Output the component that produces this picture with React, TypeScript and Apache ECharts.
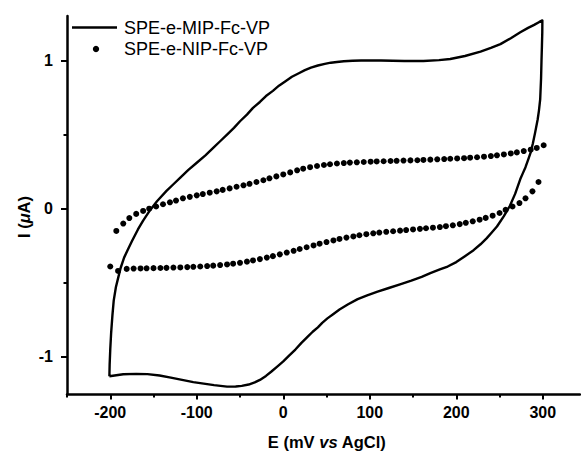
import React, { useEffect, useRef } from "react";
import * as echarts from "echarts";

// MIP: cyclic voltammogram, anodic (forward) then cathodic (reverse) sweep, [E mV, I µA]
const mipForward: [number, number][] = [
  [-201, -1.13], [-200.7, -1.05], [-200, -0.95], [-199, -0.84], [-197.5, -0.72], [-196, -0.62],
  [-193.5, -0.53], [-191, -0.47], [-188, -0.4], [-184, -0.33], [-180, -0.28], [-175, -0.22],
  [-168, -0.14], [-162, -0.08], [-154, -0.01], [-146, 0.05], [-135, 0.12], [-127, 0.165],
  [-119, 0.21], [-110, 0.26], [-100, 0.31], [-90, 0.36], [-81, 0.41], [-73, 0.455], [-65, 0.5],
  [-57, 0.545], [-50, 0.59], [-42, 0.635], [-35, 0.68], [-27, 0.72], [-20, 0.76], [-12, 0.795],
  [-5, 0.83], [3, 0.862], [10, 0.89], [18, 0.914], [25, 0.935], [32, 0.952], [40, 0.966],
  [48, 0.977], [55, 0.985], [62, 0.99], [70, 0.995], [80, 0.998], [90, 1.0], [113, 1.0],
  [140, 0.996], [162, 0.996], [180, 1.002], [193, 1.01], [210, 1.03], [228, 1.06], [240, 1.085],
  [251, 1.11], [263, 1.15], [274, 1.19], [283, 1.22], [290, 1.24], [296, 1.26], [299.5, 1.27],
];
const mipReverse: [number, number][] = [
  [299.4, 1.19], [299, 1.1], [298.5, 1.0], [298, 0.88], [297, 0.74], [295.5, 0.66], [294, 0.6],
  [291, 0.51], [288.5, 0.44], [286, 0.38], [283, 0.33], [280, 0.28], [277, 0.24], [274, 0.2],
  [268, 0.1], [262, 0.02], [255, -0.05], [247, -0.12], [241, -0.16], [235, -0.2], [228, -0.24],
  [220, -0.28], [210, -0.32], [200, -0.36], [190, -0.39], [181, -0.41], [170, -0.435],
  [160, -0.46], [148, -0.485], [135, -0.51], [122, -0.535], [109, -0.56], [97, -0.585],
  [86, -0.61], [75, -0.645], [65, -0.68], [58, -0.71], [51, -0.74], [45, -0.77], [40, -0.8],
  [34, -0.83], [28, -0.865], [21, -0.905], [14, -0.95], [7, -0.99], [0, -1.03], [-7, -1.065],
  [-14, -1.1], [-20, -1.128], [-27, -1.155], [-33, -1.172], [-40, -1.186], [-48, -1.195],
  [-55, -1.199], [-65, -1.2], [-80, -1.19], [-92, -1.18], [-104, -1.17], [-117, -1.155],
  [-130, -1.14], [-143, -1.125], [-157, -1.116], [-170, -1.114], [-185, -1.117], [-201, -1.13],
];

// NIP: sampled points
const nipForward: [number, number][] = [
  [-193, -0.15], [-185, -0.1], [-178, -0.063], [-170, -0.035], [-162, -0.015], [-155, 0.0],
  [-147, 0.015], [-139, 0.03], [-131, 0.043], [-124, 0.055], [-116, 0.07], [-108, 0.08],
  [-100, 0.09], [-93, 0.099], [-85, 0.108], [-77, 0.117], [-70, 0.127], [-62, 0.137],
  [-54, 0.148], [-46, 0.158], [-39, 0.168], [-31, 0.18], [-23, 0.192], [-16, 0.205],
  [-8, 0.218], [0, 0.231], [8, 0.245], [16, 0.259], [23, 0.27], [31, 0.28], [39, 0.288],
  [47, 0.295], [54, 0.3], [62, 0.305], [70, 0.308], [77, 0.311], [85, 0.313], [93, 0.315],
  [101, 0.317], [108, 0.319], [116, 0.32], [124, 0.322], [131, 0.323], [139, 0.325],
  [147, 0.326], [155, 0.327], [162, 0.329], [170, 0.331], [178, 0.333], [186, 0.335],
  [193, 0.337], [201, 0.339], [209, 0.341], [216, 0.344], [224, 0.347], [232, 0.351],
  [240, 0.355], [247, 0.36], [255, 0.366], [263, 0.373], [270, 0.38], [278, 0.389],
  [286, 0.398], [293, 0.41], [301, 0.428],
];
const nipReverse: [number, number][] = [
  [295, 0.18], [288, 0.117], [280, 0.07], [273, 0.038], [265, 0.015], [257, -0.008],
  [250, -0.029], [242, -0.047], [234, -0.062], [227, -0.074], [219, -0.085], [211, -0.095],
  [204, -0.104], [196, -0.112], [188, -0.118], [181, -0.124], [173, -0.128], [165, -0.132],
  [158, -0.136], [150, -0.14], [142, -0.144], [135, -0.148], [127, -0.152], [119, -0.156],
  [111, -0.161], [104, -0.166], [96, -0.172], [88, -0.179], [81, -0.187], [73, -0.195],
  [65, -0.204], [58, -0.214], [50, -0.225], [42, -0.236], [35, -0.248], [27, -0.26],
  [19, -0.272], [12, -0.284], [4, -0.296], [-4, -0.308], [-12, -0.32], [-19, -0.33],
  [-27, -0.34], [-35, -0.349], [-42, -0.357], [-50, -0.365], [-58, -0.371], [-65, -0.376],
  [-73, -0.38], [-81, -0.384], [-88, -0.387], [-96, -0.39], [-104, -0.392], [-111, -0.394],
  [-119, -0.396], [-127, -0.397], [-135, -0.399], [-142, -0.4], [-150, -0.401], [-158, -0.402],
  [-165, -0.403], [-173, -0.404], [-181, -0.406], [-191, -0.42], [-200, -0.39],
];

const seriesNames = ["SPE-e-MIP-Fc-VP", "SPE-e-NIP-Fc-VP"];
const xMajorTicks = [-200, -100, 0, 100, 200, 300];
const xMinorTicks = [-250, -150, -50, 50, 150, 250];
const yMajorTicks = [-1, 0, 1];
const yMinorTicks = [-0.5, 0.5];

export default function App() {
  const ref = useRef<HTMLDivElement>(null);
  useEffect(() => {
    const chart = echarts.init(ref.current!, null, { renderer: "svg" });
    const font = "'Liberation Sans', Arial, Helvetica, sans-serif";
    const axisLineStyle = { color: "#000", width: 2.5 };
    const tickStyle = { color: "#000", width: 2 };
    const labelStyle = { color: "#000", fontWeight: "bold", fontSize: 16, fontFamily: font };
    const xRange = { min: -250, max: 343 };
    const yRange = { min: -1.25, max: 1.3 };
    chart.setOption({
      animation: false,
      grid: { left: 67, right: 1, top: 16, bottom: 59, containLabel: false, outerBoundsMode: "none" },
      xAxis: [
        {
          type: "value", ...xRange, position: "bottom",
          axisLine: { show: true, onZero: false, lineStyle: axisLineStyle },
          axisTick: { show: true, customValues: xMajorTicks, length: 5.5, lineStyle: tickStyle },
          axisLabel: { customValues: xMajorTicks, margin: 10, ...labelStyle },
          splitLine: { show: false },
        },
        {
          type: "value", ...xRange, position: "bottom",
          axisLine: { show: false, onZero: false },
          axisTick: { show: true, customValues: xMinorTicks, length: 3.5, lineStyle: tickStyle },
          axisLabel: { show: false },
          splitLine: { show: false },
        },
      ],
      yAxis: [
        {
          type: "value", ...yRange, position: "left",
          axisLine: { show: true, onZero: false, lineStyle: axisLineStyle },
          axisTick: { show: true, customValues: yMajorTicks, length: 6, lineStyle: tickStyle },
          axisLabel: { customValues: yMajorTicks, margin: 14, ...labelStyle },
          splitLine: { show: false },
        },
        {
          type: "value", ...yRange, position: "left",
          axisLine: { show: false, onZero: false },
          axisTick: { show: true, customValues: yMinorTicks, length: 3.5, lineStyle: tickStyle },
          axisLabel: { show: false },
          splitLine: { show: false },
        },
      ],
      series: [
        {
          name: seriesNames[1],
          type: "scatter",
          data: [...nipForward, ...nipReverse],
          symbol: "circle",
          symbolSize: 6,
          itemStyle: { color: "#000", opacity: 1 },
          z: 2,
        },
        {
          name: seriesNames[0],
          type: "line",
          data: [...mipForward, ...mipReverse],
          symbol: "none",
          smooth: false,
          lineStyle: { color: "#000", width: 2.4, join: "round" },
          z: 3,
        },
      ],
      graphic: [
        { type: "line", shape: { x1: 72, y1: 27.5, x2: 117, y2: 27.5 }, style: { stroke: "#000", lineWidth: 2.4 } },
        { type: "circle", shape: { cx: 96, cy: 49, r: 3.2 }, style: { fill: "#000" } },
        {
          type: "text", x: 124, y: 28,
          style: { text: seriesNames[0], fill: "#000", font: `18px ${font}`, textAlign: "left", textVerticalAlign: "middle" },
        },
        {
          type: "text", x: 124, y: 49,
          style: { text: seriesNames[1], fill: "#000", font: `18px ${font}`, textAlign: "left", textVerticalAlign: "middle" },
        },
        {
          type: "text", x: 327, y: 442,
          style: {
            text: "E (mV {i|vs} AgCl)",
            fill: "#000", fontSize: 16.5, fontWeight: "bold", fontFamily: font,
            textAlign: "center", textVerticalAlign: "middle",
            rich: { i: { fontStyle: "italic", fontWeight: "bold", fontSize: 16.5, fontFamily: font, fill: "#000" } },
          },
        },
        {
          type: "text", x: 24, y: 217, rotation: Math.PI / 2,
          style: {
            text: "I ({i|\u03bc}A)",
            fill: "#000", fontSize: 16.5, fontWeight: "bold", fontFamily: font,
            textAlign: "center", textVerticalAlign: "middle",
            rich: { i: { fontStyle: "italic", fontWeight: "bold", fontSize: 16.5, fontFamily: font, fill: "#000" } },
          },
        },
      ],
    });
    return () => chart.dispose();
  }, []);
  return <div ref={ref} style={{ width: 581, height: 453, position: "absolute", left: 0, top: 0 }} />;
}
